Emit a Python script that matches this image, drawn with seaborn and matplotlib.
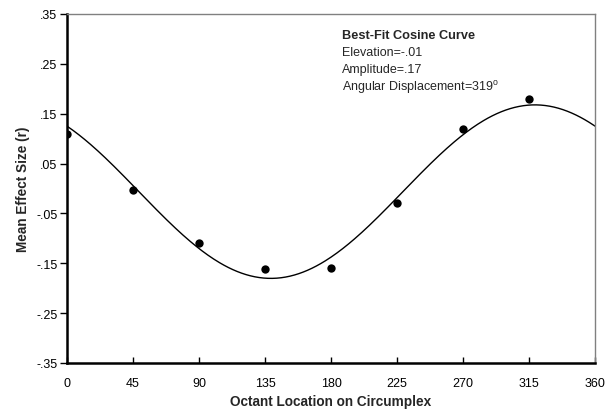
import numpy as np
import pandas as pd
import matplotlib
matplotlib.use("Agg")
import matplotlib.pyplot as plt
import seaborn as sns

# octant angles and observed mean effect sizes
octants = [0, 45, 90, 135, 180, 225, 270, 315]
effect_sizes = [0.109, -0.003, -0.109, -0.162, -0.159, -0.029, 0.119, 0.180]

# best-fit cosine curve parameters (as drawn)
elevation = -0.0063
amplitude = 0.174
displacement = 319

x_ticks = [0, 45, 90, 135, 180, 225, 270, 315, 360]
y_ticks = [-0.35, -0.25, -0.15, -0.05, 0.05, 0.15, 0.25, 0.35]
y_labels = ["-.35", "-.25", "-.15", "-.05", ".05", ".15", ".25", ".35"]

sns.set_style("white")
plt.rcParams["font.family"] = ["Liberation Sans", "DejaVu Sans"]

pts = pd.DataFrame({"angle": octants, "r": effect_sizes})
angle = np.linspace(0, 360, 361)
curve = pd.DataFrame({"angle": angle,
                      "r": elevation + amplitude * np.cos(np.radians(angle - displacement))})

fig = plt.figure(figsize=(6.06, 4.14), dpi=100)
ax = fig.add_axes([0.1106, 0.1208, 0.8714, 0.843])

sns.lineplot(data=curve, x="angle", y="r", color="black", linewidth=1.0, ax=ax)
sns.scatterplot(data=pts, x="angle", y="r", color="black", s=36, edgecolor="black",
                linewidth=0, ax=ax, zorder=3)

ax.set_xlim(0, 360)
ax.set_ylim(-0.35, 0.35)
ax.set_xticks(x_ticks)
ax.set_xticklabels([str(t) for t in x_ticks], fontsize=9)
ax.set_yticks(y_ticks)
ax.set_yticklabels(y_labels, fontsize=9)
ax.tick_params(axis="x", direction="in", length=4, width=1, pad=10, colors="black")
ax.tick_params(axis="y", direction="out", length=5, width=1, pad=2, colors="black")
ax.tick_params(axis="both", which="both", bottom=True, left=True)

for side in ["left", "bottom"]:
    ax.spines[side].set_color("black")
    ax.spines[side].set_linewidth(1.8)
for side in ["top", "right"]:
    ax.spines[side].set_color("#808080")
    ax.spines[side].set_linewidth(1.0)

ax.set_xlabel("Octant Location on Circumplex", fontsize=9.8, fontweight="bold", labelpad=4)
ax.set_ylabel("Mean Effect Size (r)", fontsize=9.8, fontweight="bold", labelpad=4)

ax.text(0.52, 0.94, "Best-Fit Cosine Curve", transform=ax.transAxes, fontsize=9.2,
        fontweight="bold", va="center")
ax.text(0.52, 0.891, "Elevation=-.01", transform=ax.transAxes, fontsize=9, va="center")
ax.text(0.52, 0.842, "Amplitude=.17", transform=ax.transAxes, fontsize=9, va="center")
ax.text(0.52, 0.793, "Angular Displacement=319$^{\\mathregular{o}}$", transform=ax.transAxes,
        fontsize=9, va="center")

fig.savefig("out.png", dpi=100)
